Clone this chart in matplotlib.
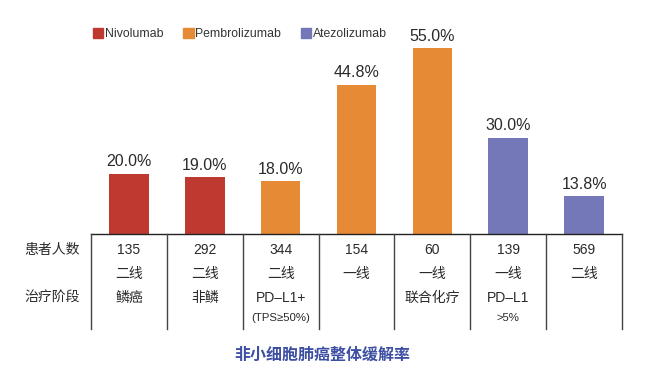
import numpy as np
import matplotlib
matplotlib.use("Agg")
import matplotlib.pyplot as plt
from matplotlib.transforms import blended_transform_factory
from matplotlib.patches import Patch

plt.rcParams['font.family'] = ['Liberation Sans', 'Noto Sans CJK SC', 'DejaVu Sans']

# data
drugs = ["Nivolumab", "Nivolumab", "Pembrolizumab", "Pembrolizumab",
         "Pembrolizumab", "Atezolizumab", "Atezolizumab"]
rates = [20.0, 19.0, 18.0, 44.8, 55.0, 30.0, 13.8]
patients = ["135", "292", "344", "154", "60", "139", "569"]
lines = ["二线", "二线", "二线", "一线", "一线", "一线", "二线"]
stage = ["鳞癌", "非鳞", "PD\u2013L1+", "", "联合化疗", "PD\u2013L1", ""]
stage2 = ["", "", "(TPS\u226550%)", "", "", ">5%", ""]
colors = {"Nivolumab": "#be3a30", "Pembrolizumab": "#e68a35", "Atezolizumab": "#7478b8"}
text_c = "#2a2a2a"

W, H = 655, 388
fig = plt.figure(figsize=(W / 100, H / 100), dpi=100)
ax = fig.add_axes([91 / W, 1 - 234 / H, 531 / W, 204 / H])

x = np.arange(len(rates))
ax.bar(x, rates, width=0.52, color=[colors[d] for d in drugs])
for xi, r in zip(x, rates):
    ax.text(xi, r + 1.2, f"{r:.1f}%", ha="center", va="bottom", fontsize=11.5, color=text_c)
ax.set_xlim(-0.5, len(rates) - 0.5)
ax.set_ylim(3.2, 60)
ax.axis("off")

# table below bars
tr = blended_transform_factory(ax.transData, fig.transFigure)
fy = lambda px: 1 - px / H
ax.plot([-0.5, len(rates) - 0.5], [fy(234)] * 2, color="#222222", lw=1,
        transform=tr, clip_on=False)
for xv in np.arange(-0.5, len(rates), 1):
    ax.plot([xv, xv], [fy(234), fy(329)], color="#444444", lw=1,
            transform=tr, clip_on=False)
for i in range(len(rates)):
    ax.text(i, fy(250), patients[i], ha="center", va="center", fontsize=10, color=text_c, transform=tr)
    ax.text(i, fy(274), lines[i], ha="center", va="center", fontsize=10, color=text_c, transform=tr)
    ax.text(i, fy(298), stage[i], ha="center", va="center", fontsize=10, color=text_c, transform=tr)
    ax.text(i, fy(318), stage2[i], ha="center", va="center", fontsize=8.2, color=text_c, transform=tr)

fig.text(52 / W, fy(250), "患者人数", ha="center", va="center", fontsize=10, color=text_c)
fig.text(52 / W, fy(298), "治疗阶段", ha="center", va="center", fontsize=10, color=text_c)

# legend
handles = [Patch(color=colors[k]) for k in ["Nivolumab", "Pembrolizumab", "Atezolizumab"]]
fig.legend(handles, ["Nivolumab", "Pembrolizumab", "Atezolizumab"], loc="center left",
           bbox_to_anchor=(82 / W, fy(34)), ncol=3, frameon=False, fontsize=8.8,
           handlelength=0.85, handleheight=0.85, handletextpad=0.15, columnspacing=1.6,
           labelcolor="#333333")

fig.text(322 / W, fy(355), "非小细胞肺癌整体缓解率", ha="center", va="center",
         fontsize=11.5, fontweight="bold", color="#3d4fa3")

fig.savefig("out.png", dpi=100)
